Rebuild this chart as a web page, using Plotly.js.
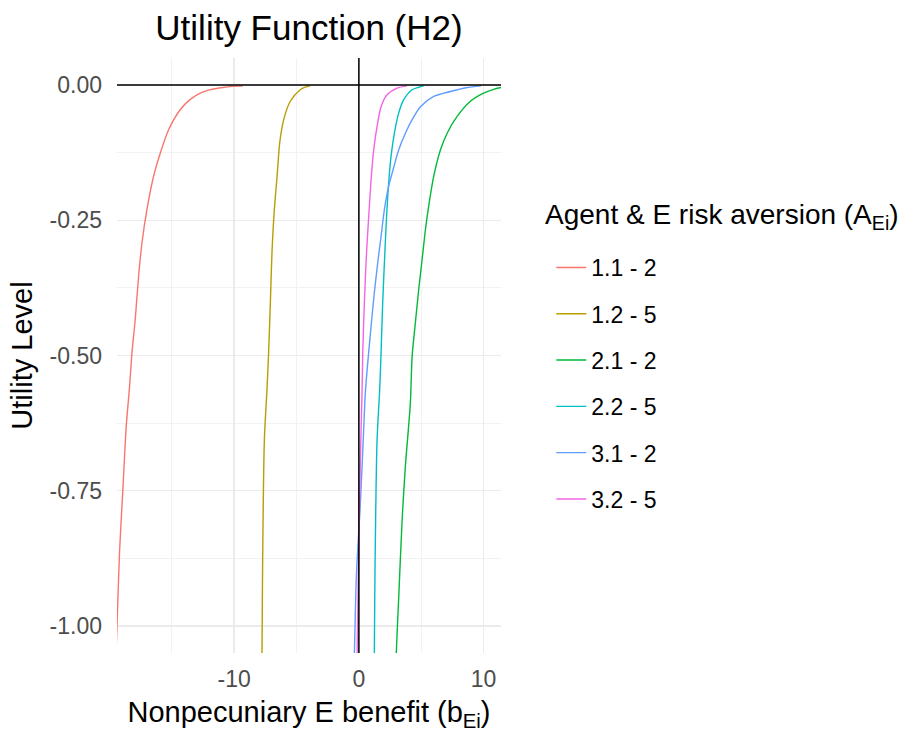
<!DOCTYPE html>
<html>
<head>
<meta charset="utf-8">
<script src="https://cdn.plot.ly/plotly-3.0.1.min.js"></script>
<style>html,body{margin:0;padding:0;background:#fff;}#chart{width:916px;height:732px;}</style>
</head>
<body>
<div id="chart"></div>
<script>
// Series names and colours
const seriesNames = ["1.1 - 2", "1.2 - 5", "2.1 - 2", "2.2 - 5", "3.1 - 2", "3.2 - 5"];
const seriesColors = ["#F8766D", "#B79F00", "#00BA38", "#00BFC4", "#619CFF", "#F564E3"];
const legendTitle = "Agent & E risk aversion (A<sub>Ei</sub>)";

// Values (x = benefit, y = utility)
const x_11_2 = [-19.55, -19.41, -19.2, -18.93, -18.66, -18.39, -18.2, -17.94, -17.67, -17.4, -17.0, -16.47, -15.93, -15.26, -14.33, -13.5, -12.72, -11.9, -11.2, -10.2, -9.3];
const y_11_2 = [-1.09, -1.007, -0.865, -0.748, -0.631, -0.557, -0.495, -0.434, -0.354, -0.292, -0.2305, -0.169, -0.126, -0.0826, -0.0457, -0.026, -0.0148, -0.0085, -0.0055, -0.0025, -0.0015];

const x_12_5 = [-7.8, -7.77, -7.72, -7.58, -7.37, -7.24, -7.1, -6.97, -6.78, -6.56, -6.35, -6.03, -5.5, -4.7, -4.3, -3.9];
const y_12_5 = [-1.09, -1.05, -0.884, -0.656, -0.563, -0.495, -0.403, -0.31, -0.23, -0.169, -0.107, -0.064, -0.030, -0.0087, -0.004, -0.0015];

const x_21_2 = [2.97, 3.0, 3.19, 3.47, 3.73, 4.13, 4.27, 4.53, 4.8, 5.07, 5.34, 5.6, 6.0, 6.54, 7.08, 7.88, 8.95, 10.0, 10.8, 11.4];
const y_21_2 = [-1.09, -1.05, -0.951, -0.804, -0.705, -0.588, -0.502, -0.44, -0.378, -0.323, -0.267, -0.224, -0.169, -0.12, -0.089, -0.058, -0.030, -0.015, -0.008, -0.0045];

const x_22_5 = [1.22, 1.24, 1.3, 1.46, 1.67, 1.78, 1.91, 2.07, 2.21, 2.39, 2.58, 2.85, 3.19, 3.6, 4.27, 4.8, 5.2];
const y_22_5 = [-1.09, -1.05, -0.884, -0.656, -0.563, -0.495, -0.403, -0.317, -0.249, -0.181, -0.132, -0.089, -0.052, -0.027, -0.0087, -0.004, -0.0015];

const x_31_2 = [-0.42, -0.36, -0.2, 0.12, 0.34, 0.52, 0.71, 0.98, 1.24, 1.51, 1.78, 2.05, 2.39, 2.74, 3.19, 3.73, 4.27, 4.94, 6.0, 7.34, 8.6, 9.8];
const y_31_2 = [-1.09, -1.05, -0.908, -0.773, -0.662, -0.569, -0.514, -0.446, -0.384, -0.329, -0.28, -0.23, -0.187, -0.157, -0.12, -0.089, -0.064, -0.040, -0.021, -0.012, -0.005, -0.0015];

const x_32_5 = [-0.16, -0.14, -0.02, 0.12, 0.26, 0.31, 0.44, 0.6, 0.79, 0.98, 1.19, 1.46, 1.78, 2.26, 3.07, 3.87];
const y_32_5 = [-1.09, -1.05, -0.877, -0.692, -0.563, -0.495, -0.403, -0.317, -0.243, -0.175, -0.12, -0.0765, -0.040, -0.018, -0.0056, -0.0015];

const seriesX = [x_11_2, x_12_5, x_21_2, x_22_5, x_31_2, x_32_5];
const seriesY = [y_11_2, y_12_5, y_21_2, y_22_5, y_31_2, y_32_5];

// Axis ticks
const xTickVals = [-10, 0, 10];
const xTickText = ["-10", "0", "10"];
const yTickVals = [0, -0.25, -0.5, -0.75, -1];
const yTickText = ["0.00", "-0.25", "-0.50", "-0.75", "-1.00"];

const FONT = "Liberation Sans, Arial, sans-serif";

const traces = seriesNames.map((name, i) => ({
  type: "scatter",
  mode: "lines",
  name: name,
  legendgroup: "g" + i,
  x: seriesX[i],
  y: seriesY[i],
  line: {color: seriesColors[i], width: 1.4, shape: "spline", smoothing: 0.8},
  hoverinfo: "skip"
}));

const layout = {
  width: 916,
  height: 732,
  paper_bgcolor: "#ffffff",
  plot_bgcolor: "#ffffff",
  margin: {l: 117, r: 415, t: 58, b: 79, pad: 0},
  font: {family: FONT, color: "#000000"},
  title: {
    text: "Utility Function (H2)",
    font: {family: FONT, size: 35, color: "#000000"},
    x: 0.5, xref: "paper", xanchor: "center",
    y: 1 - 28 / 732, yref: "container", yanchor: "middle"
  },
  xaxis: {
    range: [-19.4, 11.4],
    tickvals: xTickVals,
    ticktext: xTickText,
    tickfont: {family: FONT, size: 23, color: "#4d4d4d"},
    ticks: "",
    ticklabelstandoff: 10,
    showline: false,
    showgrid: true,
    gridcolor: "#ebebeb",
    gridwidth: 1.4,
    minor: {tickvals: [-15, -5, 5], showgrid: true, gridcolor: "#f2f2f2", gridwidth: 1},
    zeroline: false,
    title: {text: "Nonpecuniary E benefit (b<sub>Ei</sub>)", font: {family: FONT, size: 29, color: "#000000"}, standoff: 13}
  },
  yaxis: {
    range: [-1.05, 0.05],
    tickvals: yTickVals,
    ticktext: yTickText,
    tickfont: {family: FONT, size: 23, color: "#4d4d4d"},
    ticks: "",
    ticklabelstandoff: 14,
    showline: false,
    showgrid: true,
    gridcolor: "#ebebeb",
    gridwidth: 1.4,
    minor: {tickvals: [-0.125, -0.375, -0.625, -0.875], showgrid: true, gridcolor: "#f2f2f2", gridwidth: 1},
    zeroline: false,
    title: {text: "Utility Level", font: {family: FONT, size: 29, color: "#000000"}, standoff: 8}
  },
  shapes: [
    {type: "line", xref: "x", yref: "paper", x0: 0, x1: 0, y0: 0, y1: 1, line: {color: "#000000", width: 1.5}, layer: "above"},
    {type: "line", xref: "paper", yref: "y", x0: 0, x1: 1, y0: 0, y1: 0, line: {color: "#000000", width: 1.5}, layer: "above"}
  ],
  annotations: [
    {text: legendTitle, xref: "paper", yref: "paper", x: 1.110, y: (653.3 - 217) / 595,
     xanchor: "left", yanchor: "middle", showarrow: false,
     font: {family: FONT, size: 28, color: "#000000"}}
  ],
  showlegend: true,
  legend: {
    x: 1.131, xanchor: "left",
    y: 0.684, yanchor: "top",
    bgcolor: "rgba(0,0,0,0)",
    font: {family: FONT, size: 23, color: "#000000"},
    tracegroupgap: 13.4,
    itemwidth: 30,
    traceorder: "grouped"
  }
};

Plotly.newPlot("chart", traces, layout, {displayModeBar: false, staticPlot: true});
</script>
</body>
</html>
